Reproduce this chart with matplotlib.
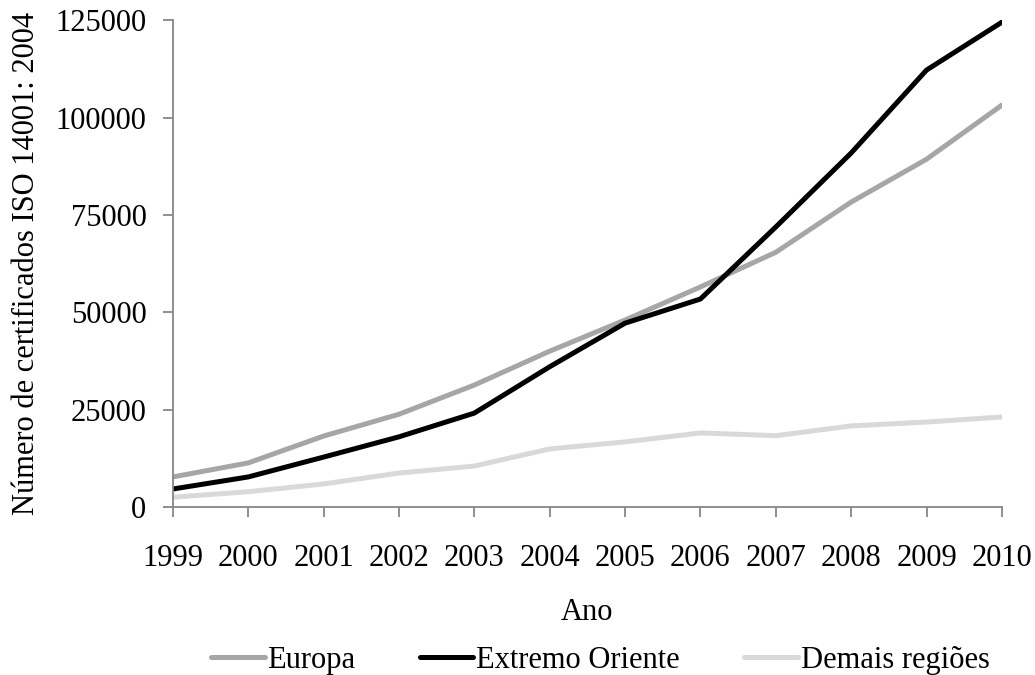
import matplotlib
matplotlib.use("Agg")
import matplotlib.pyplot as plt

years = [1999, 2000, 2001, 2002, 2003, 2004, 2005, 2006, 2007, 2008, 2009, 2010]
europa = [7700, 11300, 18200, 23800, 31300, 40000, 48000, 56500, 65400, 78300, 89300, 103200]
extremo_oriente = [4600, 7700, 12800, 18000, 24100, 36000, 47200, 53400, 71900, 90900, 112200, 124500]
demais = [2500, 3900, 5900, 8700, 10500, 14900, 16700, 19000, 18300, 20800, 21800, 23100]
yticks = [0, 25000, 50000, 75000, 100000, 125000]

plt.rcParams['font.family'] = ['Liberation Serif', 'DejaVu Serif']

fig = plt.figure(figsize=(10.35, 6.75), dpi=100)
ax = fig.add_axes([0.167, 0.249, 0.801, 0.721])

ax.plot(years, europa, color='#a6a6a6', lw=3.6, label='Europa', solid_capstyle='round')
ax.plot(years, extremo_oriente, color='#000000', lw=3.6, label='Extremo Oriente', solid_capstyle='round')
ax.plot(years, demais, color='#d9d9d9', lw=3.6, label='Demais regiões', solid_capstyle='round')

ax.set_xlim(1999, 2010)
ax.set_ylim(0, 125000)
ax.set_xticks(years)
ax.set_xticklabels([str(y) for y in years])
ax.set_yticks(yticks)
ax.set_yticklabels([str(v) for v in yticks])

for s in ['top', 'right']:
    ax.spines[s].set_visible(False)
for s in ['left', 'bottom']:
    ax.spines[s].set_color('#868686')
    ax.spines[s].set_linewidth(1.3)
ax.tick_params(axis='both', colors='#868686', labelcolor='black', labelsize=22, width=1.3, length=7)
ax.tick_params(axis='x', pad=20)
ax.tick_params(axis='y', pad=12)

ax.set_xlabel('Ano', fontsize=22, labelpad=18)
ax.set_ylabel('Número de certificados ISO 14001: 2004', fontsize=22, labelpad=10)

fig.legend(loc='center', bbox_to_anchor=(0.58, 0.022), ncol=3, frameon=False,
           fontsize=22, handlelength=1.75, handletextpad=0.1, columnspacing=2.1,
           borderpad=0, borderaxespad=0)

fig.savefig('out.png', dpi=100)
